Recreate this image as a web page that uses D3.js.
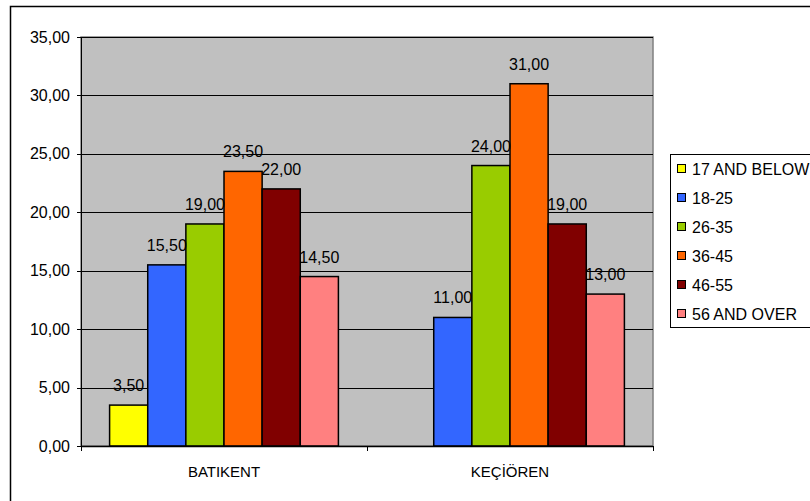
<!DOCTYPE html>
<html>
<head>
<meta charset="utf-8">
<script src="https://cdn.jsdelivr.net/npm/d3@7"></script>
<style>
  body { margin: 0; background: #fff; }
  svg { display: block; font-family: "Liberation Sans", Arial, sans-serif; }
</style>
</head>
<body>
<svg id="chart" width="810" height="501"></svg>
<script>
// Age groups per district (percent)
const categories = ["BATIKENT", "KEÇİÖREN"];
const series = ["17 AND BELOW", "18-25", "26-35", "36-45", "46-55", "56 AND OVER"];
const colors = ["#FFFF00", "#3366FF", "#99CC00", "#FF6600", "#800000", "#FF8080"];
const batikent = [3.5, 15.5, 19, 23.5, 22, 14.5];
const kecioren = [null, 11, 24, 31, 19, 13];
const yTicks = [0, 5, 10, 15, 20, 25, 30, 35];

const values = [batikent, kecioren];
const fmt = v => v.toFixed(2).replace(".", ",");

const svg = d3.select("#chart");
const plot = { left: 81, top: 37, right: 653, bottom: 446 };

// Outer chart frame
svg.append("rect")
  .attr("x", 10.5).attr("y", 6.5)
  .attr("width", 900).attr("height", 600)
  .attr("fill", "#fff").attr("stroke", "#000").attr("stroke-width", 1.5);

const x0 = d3.scaleBand().domain(categories).range([plot.left, plot.right]).paddingInner(0).paddingOuter(0);
const x1 = d3.scaleBand().domain(series).range([0, x0.bandwidth()]).paddingOuter(0.75).paddingInner(0);
const y = d3.scaleLinear().domain([0, 35]).range([plot.bottom, plot.top]);

// Plot background
svg.append("rect")
  .attr("x", plot.left).attr("y", plot.top)
  .attr("width", plot.right - plot.left).attr("height", plot.bottom - plot.top)
  .attr("fill", "#C0C0C0").attr("stroke", "#808080").attr("stroke-width", 1.5);

// Gridlines
svg.append("g").selectAll("line").data(yTicks.filter(t => t > 0)).join("line")
  .attr("x1", plot.left).attr("x2", plot.right)
  .attr("y1", d => Math.round(y(d)) + 0.5).attr("y2", d => Math.round(y(d)) + 0.5)
  .attr("stroke", "#000").attr("stroke-width", 1);

// Bars
const groups = svg.append("g").selectAll("g").data(categories).join("g")
  .attr("transform", d => `translate(${x0(d)},0)`);

groups.selectAll("rect")
  .data((c, i) => series.map((s, j) => ({ s, j, v: values[i][j] })).filter(d => d.v !== null))
  .join("rect")
  .attr("x", d => x1(d.s))
  .attr("y", d => y(d.v))
  .attr("width", x1.bandwidth())
  .attr("height", d => y(0) - y(d.v))
  .attr("fill", d => colors[d.j])
  .attr("stroke", "#000").attr("stroke-width", 1.5);

groups.selectAll("text")
  .data((c, i) => series.map((s, j) => ({ s, j, v: values[i][j] })).filter(d => d.v !== null))
  .join("text")
  .attr("x", d => x1(d.s) + x1.bandwidth() / 2)
  .attr("y", d => y(d.v) - 14)
  .attr("text-anchor", "middle")
  .attr("font-size", 16)
  .attr("fill", "#000")
  .text(d => fmt(d.v));

// Y axis
const yAxis = svg.append("g");
yAxis.append("line")
  .attr("x1", plot.left + 0.5).attr("x2", plot.left + 0.5)
  .attr("y1", plot.top).attr("y2", plot.bottom)
  .attr("stroke", "#000");
yAxis.selectAll("line.tick").data(yTicks).join("line").attr("class", "tick")
  .attr("x1", plot.left - 4).attr("x2", plot.left)
  .attr("y1", d => Math.round(y(d)) + 0.5).attr("y2", d => Math.round(y(d)) + 0.5)
  .attr("stroke", "#000");
yAxis.selectAll("text").data(yTicks).join("text")
  .attr("x", 70).attr("y", d => y(d))
  .attr("dy", "0.35em")
  .attr("text-anchor", "end")
  .attr("font-size", 16)
  .text(d => fmt(d));

// X axis
const xAxis = svg.append("g");
xAxis.append("line")
  .attr("x1", plot.left).attr("x2", plot.right)
  .attr("y1", plot.bottom + 0.5).attr("y2", plot.bottom + 0.5)
  .attr("stroke", "#000").attr("stroke-width", 1.5);
const bounds = [plot.left, x0(categories[1]), plot.right];
xAxis.selectAll("line.tick").data(bounds).join("line").attr("class", "tick")
  .attr("x1", d => Math.round(d) + 0.5).attr("x2", d => Math.round(d) + 0.5)
  .attr("y1", plot.bottom).attr("y2", plot.bottom + 5)
  .attr("stroke", "#000");
xAxis.selectAll("text").data(categories).join("text")
  .attr("x", d => x0(d) + x0.bandwidth() / 2)
  .attr("y", 477)
  .attr("text-anchor", "middle")
  .attr("font-size", 15)
  .text(d => d);

// Legend
const legend = svg.append("g");
legend.append("rect")
  .attr("x", 670.5).attr("y", 154.5)
  .attr("width", 200).attr("height", 173)
  .attr("fill", "#fff").attr("stroke", "#000");
const items = legend.selectAll("g").data(series).join("g")
  .attr("transform", (d, i) => `translate(0,${169 + i * 29})`);
items.append("rect")
  .attr("x", 677.5).attr("y", -4.5)
  .attr("width", 8).attr("height", 8)
  .attr("fill", (d, i) => colors[i])
  .attr("stroke", "#000");
items.append("text")
  .attr("x", 692).attr("y", 0)
  .attr("dy", "0.36em")
  .attr("font-size", 16)
  .text(d => d);
</script>
</body>
</html>
